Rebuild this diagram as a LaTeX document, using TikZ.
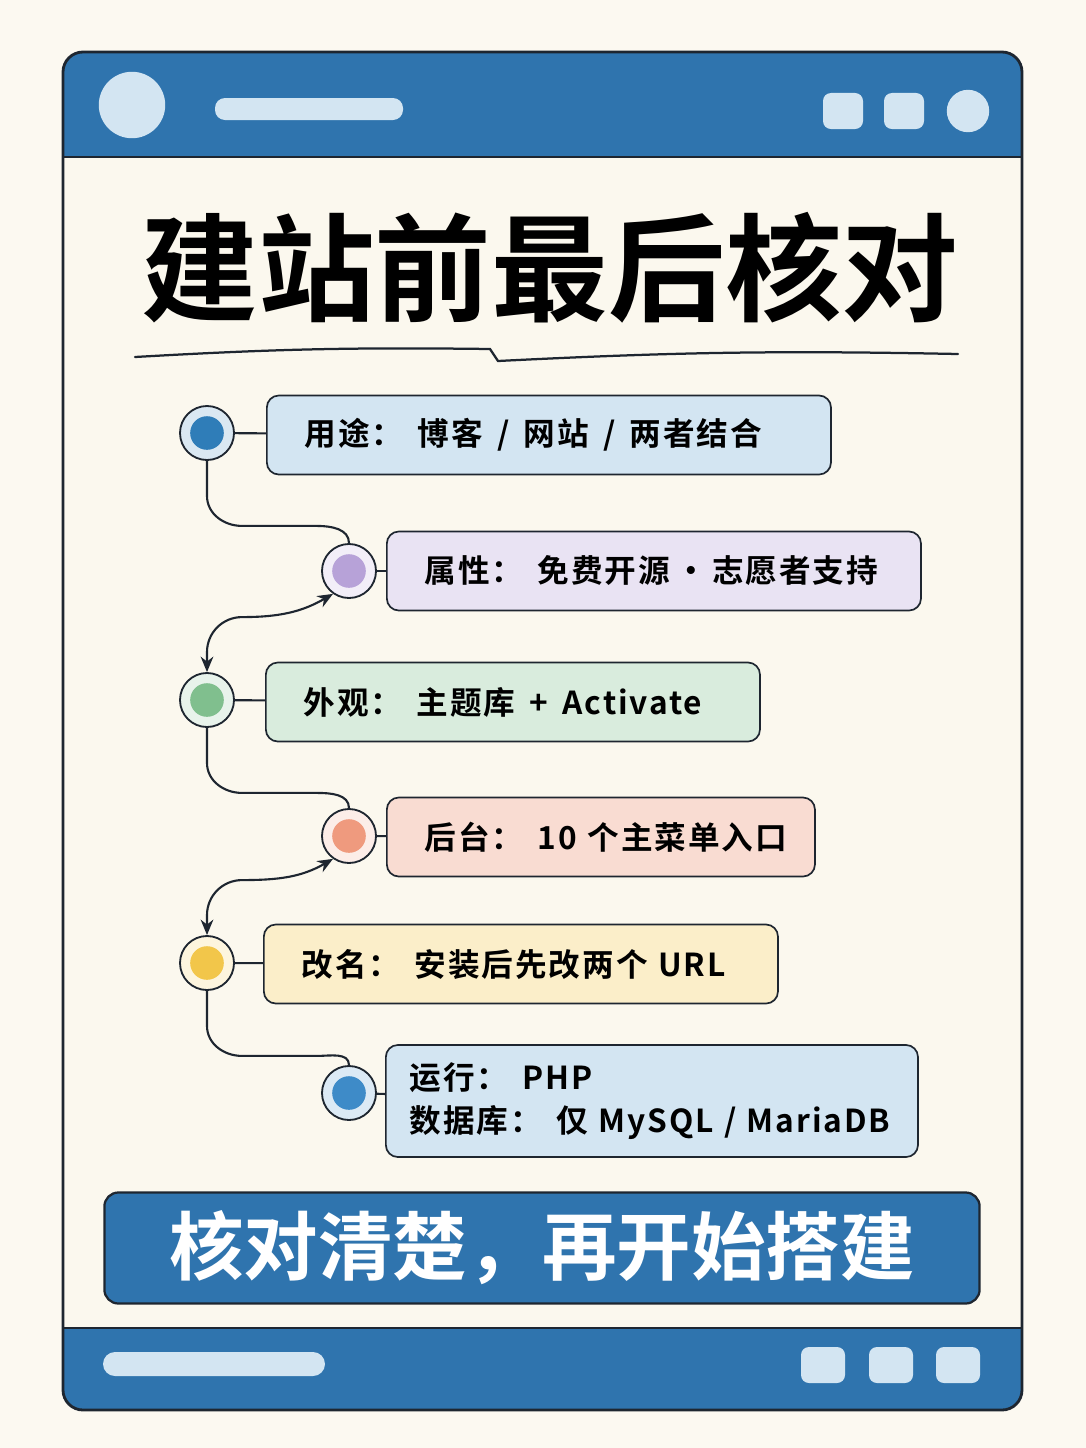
\documentclass[tikz,border=0pt]{standalone}
\usepackage{fontspec}
\setmainfont{Noto Sans CJK SC}[BoldFont={Noto Sans CJK SC Bold}]
\usetikzlibrary{positioning, arrows.meta}
\definecolor{ink}{HTML}{1E2630}
\definecolor{paper}{HTML}{FBF8EE}
\definecolor{barblue}{HTML}{2F74AE}
\definecolor{pale}{HTML}{D3E5F2}
\definecolor{cblue}{HTML}{2F7DB8}
\definecolor{cpurple}{HTML}{B7A2D8}
\definecolor{cgreen}{HTML}{80BF8E}
\definecolor{corange}{HTML}{EF9A7E}
\definecolor{cyellow}{HTML}{F2C64A}
\definecolor{cblue2}{HTML}{3E8BC8}
\newcommand{\gap}{\hspace{0.45em}}
\tikzset{
  dot/.style={circle, draw=ink, line width=1.3pt, fill=#1!18!white, minimum size=1.35cm,
    path picture={\fill[#1] (path picture bounding box.center) circle (0.42cm);}},
  card/.style={rectangle, rounded corners=0.3cm, draw=ink, line width=1.2pt, fill=#1,
    anchor=west, align=left, inner xsep=0.95cm, minimum height=1.975cm,
    font=\bfseries\fontsize{22.5}{31}\selectfont\addfontfeatures{LetterSpace=6}},
  link/.style={draw=ink, line width=1.5pt},
  arrow/.style={link, {Stealth[length=11pt,width=9pt]}-{Stealth[length=11pt,width=9pt]}},
  btn/.style={rectangle, rounded corners=0.2cm, fill=pale}
}
\begin{document}
\begin{tikzpicture}[x=0.025cm, y=-0.025cm]
    \useasboundingbox (0,0) rectangle (1086,1448);
    \fill[paper!80!white] (0,0) rectangle (1086,1448);
    % window
    \begin{scope}
      \clip[rounded corners=0.5cm] (63,52) rectangle (1022,1410);
      \fill[paper] (63,52) rectangle (1022,1410);
      \fill[barblue] (63,52) rectangle (1022,157);
      \fill[barblue] (63,1328) rectangle (1022,1410);
    \end{scope}
    \draw[ink, line width=2pt, rounded corners=0.5cm] (63,52) rectangle (1022,1410);
    \draw[ink, line width=2pt] (63,157) -- (1022,157) (63,1328) -- (1022,1328);
    % top bar
    \fill[pale] (132,105) circle (0.83cm);
    \fill[pale, rounded corners=0.25cm] (215,98) rectangle (403,120);
    \node[btn, minimum width=1cm, minimum height=0.9cm] (b1) at (843,111) {};
    \node[btn, minimum width=1cm, minimum height=0.9cm] (b2) at (904,111) {};
    \fill[pale] (968,111) circle (0.53cm);
    % title
    \node[font=\bfseries\fontsize{83}{88}\selectfont, text=black] (title) at (550,268) {建站前最后核对};
    \draw[ink, line width=1.6pt, line cap=round] (135,357) to[bend left=2] (490,349) -- (498,361) to[bend left=2] (958,354);
    % items
    \node[dot=cblue] (c1) at (207,433) {};
    \node[card=pale, text width=12.2cm] (t1) at (266,435) {用途：\gap 博客\gap /\gap 网站\gap /\gap 两者结合};
    \node[dot=cpurple] (c2) at (349,571) {};
    \node[card=cpurple!30!white, text width=11.45cm] (t2) at (386,571) {属性：\gap 免费开源\,·\,志愿者支持};
    \node[dot=cgreen] (c3) at (207,700) {};
    \node[card=cgreen!30!white, text width=10.45cm] (t3) at (265,702) {外观：\gap 主题库\gap +\gap Activate};
    \node[dot=corange] (c4) at (349,836) {};
    \node[card=corange!35!white, text width=8.8cm] (t4) at (386,837) {\mbox{后台：\gap 10 个主菜单入口}};
    \node[dot=cyellow] (c5) at (207,963) {};
    \node[card=cyellow!30!white, text width=10.95cm] (t5) at (263,964) {改名：\gap 安装后先改两个 URL};
    \node[dot=cblue2] (c6) at (349,1093) {};
    \node[card=pale, text width=12.1cm, inner xsep=0.6cm, minimum height=2.8cm] (t6) at (385,1101)
      {运行：\gap PHP\\数据库：\gap 仅 MySQL / MariaDB};
    % links
    \draw[link] (c1) -- (t1); \draw[link] (c2) -- (t2); \draw[link] (c3) -- (t3);
    \draw[link] (c4) -- (t4); \draw[link] (c5) -- (t5); \draw[link] (c6) -- (t6);
    \draw[link] (c1.south) -- ++(0,35) to[out=-90,in=180] ++(35,30) -- ++(75,0) to[out=0,in=90] (c2.north);
    \draw[arrow] (c3.north) -- ++(0,-20) to[out=90,in=180] ++(35,-35) to[out=0,in=210] (c2.235);
    \draw[link] (c3.south) -- ++(0,35) to[out=-90,in=180] ++(35,30) -- ++(75,0) to[out=0,in=90] (c4.north);
    \draw[arrow] (c5.north) -- ++(0,-20) to[out=90,in=180] ++(35,-35) to[out=0,in=210] (c4.235);
    \draw[link] (c5.south) -- ++(0,35) to[out=-90,in=180] ++(35,30) -- ++(75,0) to[out=0,in=90] (c6.north);
    % banner
    \node[rectangle, rounded corners=0.35cm, draw=ink, line width=1.6pt, fill=barblue,
      minimum width=21.875cm, minimum height=2.775cm, text=white,
      font=\bfseries\fontsize{53}{58}\selectfont] (banner) at (542,1248) {核对清楚，再开始搭建};
    % bottom bar
    \fill[pale, rounded corners=0.3cm] (103,1352) rectangle (325,1376);
    \node[btn, minimum width=1.1cm, minimum height=0.9cm] (b3) at (823,1365) {};
    \node[btn, minimum width=1.1cm, minimum height=0.9cm] (b4) at (891,1365) {};
    \node[btn, minimum width=1.1cm, minimum height=0.9cm] (b5) at (958,1365) {};
\end{tikzpicture}
\end{document}
